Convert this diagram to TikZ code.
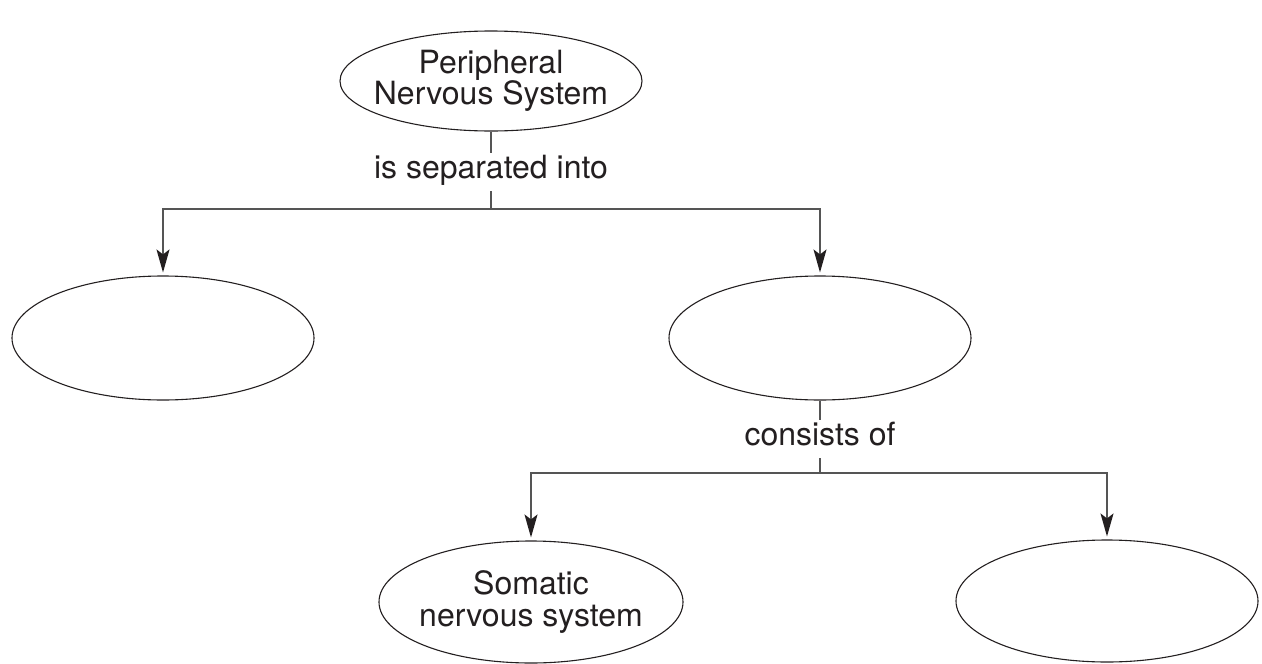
\documentclass[tikz,border=0pt]{standalone}
\usepackage{fontspec}
\setmainfont{TeX Gyre Heros}
\usetikzlibrary{arrows.meta,shapes.geometric}
\definecolor{ink}{HTML}{231F20}
\definecolor{conn}{HTML}{555555}
\tikzset{
  bubble/.style={ellipse, draw=ink, line width=1.1pt, inner sep=0pt},
  bubbletext/.style={align=center, inner sep=0pt,
    font=\fontsize{32}{31.5}\selectfont, text=ink},
  linklabel/.style={inner sep=0pt, text height=25pt, text depth=13pt,
    font=\fontsize{32}{31.5}\selectfont, text=ink},
  conn/.style={draw=conn, line width=1.6pt},
  arr/.style={conn, -{Stealth[length=23pt, width=13pt, inset=5pt, color=ink]}, shorten >=3pt}
}
\begin{document}
\begin{tikzpicture}[x=1pt,y=-1pt]
\useasboundingbox (0,0) rectangle (1262,664);
\node[bubble, minimum width=302pt, minimum height=100pt,
  label={[bubbletext, name=pnstext]center:Peripheral\\Nervous System}] (pns) at (491,81) {};
\node[linklabel, anchor=base] (sep) at (491,178) {is separated into};
\node[bubble, minimum width=302pt, minimum height=124pt] (left) at (163,338) {};
\node[bubble, minimum width=302pt, minimum height=124pt] (right) at (820,338) {};
\node[linklabel, anchor=base] (cons) at (820,445) {consists of};
\node[bubble, minimum width=304pt, minimum height=122pt,
  label={[bubbletext, name=somatext]center:Somatic\\nervous system}] (soma) at (531,602) {};
\node[bubble, minimum width=302pt, minimum height=122pt] (other) at (1107,601) {};
\coordinate (j1) at (491,209);
\coordinate (j2) at (820,473);
\draw[conn] (pns.south) -- (sep.north);
\draw[conn] (sep.south) -- (j1);
\draw[arr] (j1) -| (left.north);
\draw[arr] (j1) -| (right.north);
\draw[conn] (right.south) -- (cons.north);
\draw[conn] (cons.south) -- (j2);
\draw[arr] (j2) -| (soma.north);
\draw[arr] (j2) -| (other.north);
\end{tikzpicture}
\end{document}
